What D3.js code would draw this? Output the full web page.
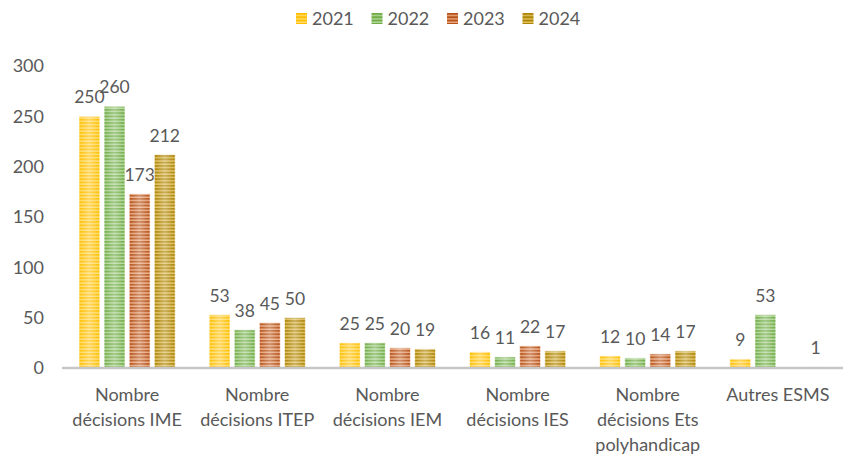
<!DOCTYPE html>
<html>
<head>
<meta charset="utf-8">
<script src="https://cdn.jsdelivr.net/npm/d3@7"></script>
<style>
  body { margin: 0; background: #fff; }
  text { font-family: Lato, "Liberation Sans", sans-serif; fill: #595959; }
</style>
</head>
<body>
<div id="chart"></div>
<script>
// data
var categories = [
  ["Nombre", "décisions IME"],
  ["Nombre", "décisions ITEP"],
  ["Nombre", "décisions IEM"],
  ["Nombre", "décisions IES"],
  ["Nombre", "décisions Ets", "polyhandicap"],
  ["Autres ESMS"]
];
var years = ["2021", "2022", "2023", "2024"];
var v2021 = [250, 53, 25, 16, 12, 9];
var v2022 = [260, 38, 25, 11, 10, 53];
var v2023 = [173, 45, 20, 22, 14, null];
var v2024 = [212, 50, 19, 17, 17, 1];
var yTicks = [0, 50, 100, 150, 200, 250, 300];

var series = [v2021, v2022, v2023, v2024];
var colors = [
  {base: "#FFC000", light: "#FFDB6E"},
  {base: "#70AD47", light: "#B3D69A"},
  {base: "#B5531A", light: "#EBA77E"},
  {base: "#AE8505", light: "#DFC060"}
];

var W = 860, H = 459;
var margin = {top: 66, right: 17, bottom: 91, left: 62},
    width = W - margin.left - margin.right,
    height = H - margin.top - margin.bottom;

var svg = d3.select("#chart").append("svg")
    .attr("width", W)
    .attr("height", H);

// striped fills
var defs = svg.append("defs");
var grad = defs.append("linearGradient")
    .attr("id", "shine").attr("x1", "0").attr("x2", "1").attr("y1", "0").attr("y2", "0");
grad.append("stop").attr("offset", "0").attr("stop-color", "#fff").attr("stop-opacity", 0);
grad.append("stop").attr("offset", "0.5").attr("stop-color", "#fff").attr("stop-opacity", 0.35);
grad.append("stop").attr("offset", "1").attr("stop-color", "#fff").attr("stop-opacity", 0);

colors.forEach(function(c, i) {
  var p = defs.append("pattern")
      .attr("id", "stripe" + i)
      .attr("patternUnits", "userSpaceOnUse")
      .attr("width", 8).attr("height", 3.3);
  p.append("rect").attr("width", 8).attr("height", 3.3).attr("fill", c.base);
  p.append("rect").attr("y", 1.9).attr("width", 8).attr("height", 1.4).attr("fill", c.light);
});

var g = svg.append("g")
    .attr("transform", "translate(" + margin.left + "," + margin.top + ")");

var x0 = d3.scaleBand()
    .domain(d3.range(categories.length))
    .range([0, width]);

var x1 = d3.scaleBand()
    .domain(years)
    .range([17, x0.bandwidth() - 17])
    .paddingInner(0.17);

var y = d3.scaleLinear()
    .domain([0, 300])
    .range([height, 0]);

// y axis labels
var yAxis = g.append("g")
    .call(d3.axisLeft(y).tickValues(yTicks).tickSize(0).tickPadding(18));
yAxis.select(".domain").remove();
yAxis.selectAll("text")
    .style("font-size", "18px")
    .attr("fill", "#595959");

// bars
var groups = g.selectAll(".grp")
    .data(categories)
    .enter().append("g")
    .attr("transform", function(d, i) { return "translate(" + x0(i) + ",0)"; });

groups.each(function(d, ci) {
  var grp = d3.select(this);
  years.forEach(function(yr, si) {
    var v = series[si][ci];
    if (v == null) return;
    var bx = x1(yr), bw = x1.bandwidth();
    grp.append("rect")
        .attr("x", bx).attr("y", y(v))
        .attr("width", bw).attr("height", height - y(v))
        .attr("fill", "url(#stripe" + si + ")")
        .attr("stroke", "#fff").attr("stroke-opacity", 0.6).attr("stroke-width", 1);
    grp.append("rect")
        .attr("x", bx).attr("y", y(v))
        .attr("width", bw).attr("height", height - y(v))
        .attr("fill", "url(#shine)");
    grp.append("text")
        .attr("x", bx + bw / 2)
        .attr("y", y(v) - 13)
        .attr("text-anchor", "middle")
        .style("font-size", "17.5px")
        .text(v);
  });
});

// x axis line
g.append("line")
    .attr("x1", 0).attr("x2", width)
    .attr("y1", height).attr("y2", height)
    .attr("stroke", "#c6c6c6").attr("stroke-width", 2.5);

// category labels
groups.append("text")
    .attr("x", x0.bandwidth() / 2)
    .attr("y", height + 33)
    .attr("text-anchor", "middle")
    .style("font-size", "18px")
    .selectAll("tspan")
    .data(function(d) { return d; })
    .enter().append("tspan")
    .attr("x", x0.bandwidth() / 2)
    .attr("dy", function(d, i) { return i === 0 ? 0 : 25; })
    .text(function(d) { return d; });

// legend
var legend = svg.append("g").attr("transform", "translate(296,13)");
years.forEach(function(yr, i) {
  var item = legend.append("g").attr("transform", "translate(" + (i * 75.5) + ",0)");
  item.append("rect").attr("width", 11).attr("height", 11)
      .attr("fill", "url(#stripe" + i + ")");
  item.append("text").attr("x", 16).attr("y", 12)
      .style("font-size", "18px").text(yr);
});
</script>
</body>
</html>
